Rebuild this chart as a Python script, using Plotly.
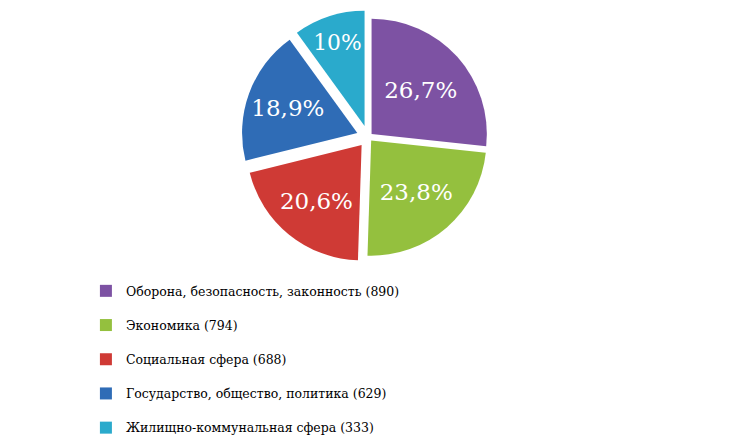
import plotly.graph_objects as go

categories = ['Оборона, безопасность, законность', 'Экономика', 'Социальная сфера',
              'Государство, общество, политика', 'Жилищно-коммунальная сфера']
counts = [890, 794, 688, 629, 333]
colors = ['#7d52a3', '#94c03e', '#cf3a35', '#2f6cb6', '#2aaacc']

serif = 'DejaVu Serif'

total = sum(counts)
# blank first line + small legend font so entries sit ~34px apart
labels = [f' <br><span style="font-size:12.5px">{c} ({n})</span>' for c, n in zip(categories, counts)]
shares = []
for n in counts:
    s = f'{n / total * 100:.1f}'.replace('.', ',')
    if s.endswith(',0'):
        s = s[:-2]
    shares.append(s + '%')

fig = go.Figure(go.Pie(
    labels=labels,
    values=counts,
    text=shares,
    textinfo='text',
    textposition='inside',
    insidetextorientation='horizontal',
    textfont=dict(family=serif, size=23, color='white'),
    marker=dict(colors=colors, line=dict(color='white', width=0)),
    sort=False,
    direction='clockwise',
    rotation=0,
    pull=[0.04, 0.04, 0.09, 0.1, 0.1],
    domain=dict(x=[0.18, 0.8], y=[0.42, 0.995]),
    hoverinfo='label+value+text',
))

fig.update_layout(
    width=735, height=441,
    margin=dict(l=0, r=0, t=0, b=0),
    paper_bgcolor='white',
    plot_bgcolor='white',
    font=dict(family=serif, size=12, color='black'),
    showlegend=True,
    legend=dict(
        x=0.106, y=0.016, xanchor='left', yanchor='bottom',
        orientation='v', valign='bottom',
        font=dict(family=serif, size=12, color='black'),
        itemwidth=30,
    ),
)

fig.write_html('out.html')
